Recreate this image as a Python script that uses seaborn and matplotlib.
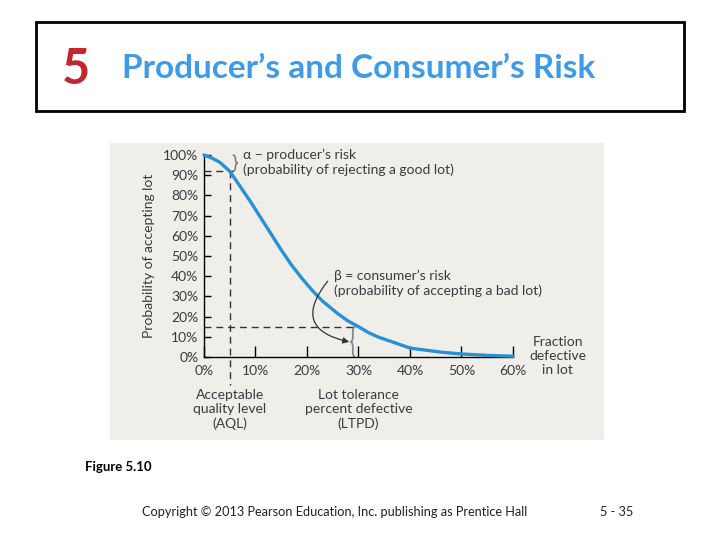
import numpy as np
import pandas as pd
import matplotlib
matplotlib.use("Agg")
import matplotlib.pyplot as plt
import seaborn as sns
from matplotlib.path import Path
from matplotlib.patches import PathPatch, Rectangle

# OC curve (percent defective -> probability of accepting, %)
defect_pct = [0, 1.5, 3, 5, 7, 9, 11, 13, 15, 17, 19, 21, 23, 26, 28, 30,
              32, 34, 37, 40, 43, 46, 50, 55, 60]
accept_pct = [100, 98.5, 96.5, 92, 84.5, 77, 69, 61, 53, 45.5, 39, 33, 27.7, 21.4, 17.8, 15,
              12, 9.7, 7.1, 4.4, 3.4, 2.4, 1.5, 0.8, 0.4]

x_ticks = [0, 10, 20, 30, 40, 50, 60]
y_ticks = [0, 10, 20, 30, 40, 50, 60, 70, 80, 90, 100]

aql = 5          # acceptable quality level, %
alpha_level = 92  # probability of accepting at AQL
ltpd = 30        # lot tolerance percent defective, %
beta_level = 15   # probability of accepting at LTPD

title = "Producer\u2019s and Consumer\u2019s Risk"
chapter = "5"
footer_fig = "Figure 5.10"
footer_copy = "Copyright \u00a9 2013 Pearson Education, Inc. publishing as Prentice Hall"
footer_page = "5 - 35"

TEXT = "#3a3a3a"
CURVE = "#2a90d4"


def brace(ax, x, y0, y1, w, r, **kw):
    # curly brace between y0 and y1, tip at x + w
    ym = (y0 + y1) / 2
    xm = x + w / 2
    xt = x + w
    codes = [Path.MOVETO, Path.CURVE3, Path.CURVE3, Path.LINETO, Path.CURVE3, Path.CURVE3]
    for ya, sgn in [(y1, -1), (y0, 1)]:
        verts = [(x, ya), (xm, ya), (xm, ya + sgn * r), (xm, ym - sgn * r), (xm, ym), (xt, ym)]
        ax.add_patch(PathPatch(Path(verts, codes), fill=False, clip_on=False, **kw))


sns.set_theme(style="ticks")
plt.rcParams["font.family"] = ["Lato", "DejaVu Sans"]

df = pd.DataFrame({"defective": defect_pct, "accept": accept_pct})

fig = plt.figure(figsize=(7.2, 5.4), dpi=100)
fig.patch.set_facecolor("white")

# grey panel behind the figure
bg = fig.add_axes([110 / 720, 100 / 540, 494 / 720, 297 / 540])
bg.set_facecolor("#efeee9")
bg.set_xticks([])
bg.set_yticks([])
for s in bg.spines.values():
    s.set_visible(False)

# title box
fig.patches.append(Rectangle((36 / 720, 429 / 540), 648 / 720, 89 / 540,
                             transform=fig.transFigure, facecolor="none",
                             edgecolor="black", linewidth=2, zorder=1))

fig.text(62 / 720, 1 - 70 / 540, chapter, color="#c0282e", fontsize=35,
         fontweight="bold", ha="left", va="center")
fig.text(122 / 720, 1 - 68 / 540, title, color="#3d9be9", fontsize=24,
         fontweight="bold", ha="left", va="center")

ax = fig.add_axes([204 / 720, 183 / 540, 309 / 720, 202 / 540])
ax.set_facecolor("none")

sns.lineplot(data=df, x="defective", y="accept", ax=ax, color=CURVE,
             linewidth=2.4, clip_on=False, zorder=3)

ax.set_xlim(0, 60)
ax.set_ylim(0, 100)
ax.set_xticks(x_ticks)
ax.set_xticklabels([f"{t}%" for t in x_ticks])
ax.set_yticks(y_ticks)
ax.set_yticklabels([f"{t}%" for t in y_ticks])
ax.tick_params(axis="x", direction="in", length=8, width=1, color="black",
               labelsize=10, labelcolor=TEXT, pad=6)
ax.tick_params(axis="y", direction="in", length=5, width=1, color="black",
               labelsize=10, labelcolor=TEXT, pad=4)
ax.set_xlabel("")
ax.set_ylabel("Probability of accepting lot", fontsize=10, color=TEXT, labelpad=6)
sns.despine(ax=ax)
for side in ["left", "bottom"]:
    ax.spines[side].set_color("black")
    ax.spines[side].set_linewidth(1)

dash = dict(color="#333333", linewidth=1, linestyle=(0, (5, 3.5)), clip_on=False, zorder=2)
ax.plot([0, aql + 0.6], [alpha_level, alpha_level], **dash)
ax.plot([aql, aql], [alpha_level, -14], **dash)
ax.plot([0, ltpd], [beta_level, beta_level], **dash)

brace(ax, aql + 0.6, alpha_level, 100, 1.0, 2.0, edgecolor="#777777", linewidth=1.1)
brace(ax, ltpd - 0.6, 0, beta_level, -1.0, 2.5, edgecolor="#888888", linewidth=1.3)

ax.annotate("", xy=(ltpd - 1.8, beta_level / 2), xytext=(24, 37.5),
            arrowprops=dict(arrowstyle="-|>", color="#333333", lw=0.9,
                            mutation_scale=9, shrinkA=0, shrinkB=0,
                            connectionstyle="arc3,rad=0.8"))

txt = dict(fontsize=10, color=TEXT, clip_on=False, linespacing=1.2)
ax.text(7.5, 96.5, "\u03b1 \u2212 producer\u2019s risk\n(probability of rejecting a good lot)",
        ha="left", va="center", **txt)
ax.text(25.2, 36.4, "\u03b2 = consumer\u2019s risk\n(probability of accepting a bad lot)",
        ha="left", va="center", **txt)
ax.text(68.7, 0.5, "Fraction\ndefective\nin lot", ha="center", va="center", **txt)
ax.text(aql, -26, "Acceptable\nquality level\n(AQL)", ha="center", va="center", **txt)
ax.text(ltpd, -26, "Lot tolerance\npercent defective\n(LTPD)", ha="center", va="center", **txt)

fig.text(85 / 720, 1 - 467 / 540, footer_fig, fontsize=9.5, fontweight="bold",
         color="black", ha="left", va="center")
fig.text(335 / 720, 1 - 512 / 540, footer_copy, fontsize=9.2, color="#222222",
         ha="center", va="center")
fig.text(617 / 720, 1 - 512 / 540, footer_page, fontsize=9.2, color="#222222",
         ha="center", va="center")

fig.savefig("out.png", dpi=100)
